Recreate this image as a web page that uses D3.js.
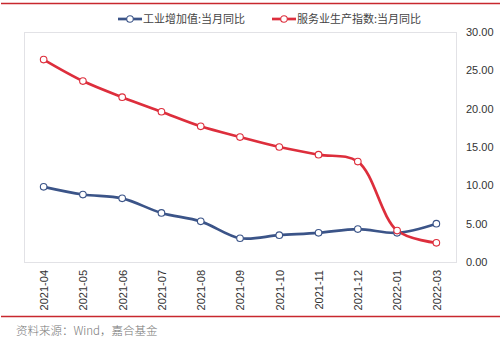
<!DOCTYPE html>
<html><head><meta charset="utf-8">
<script src="https://cdn.jsdelivr.net/npm/d3@7"></script>
<style>body{margin:0;background:#fff}svg{display:block}</style>
</head><body>
<svg id="c" width="500" height="340"></svg>
<script>
const categories = ["2021-04","2021-05","2021-06","2021-07","2021-08","2021-09","2021-10","2021-11","2021-12","2022-01","2022-03"];
const industrial = [9.8, 8.8, 8.3, 6.4, 5.3, 3.1, 3.5, 3.8, 4.3, 3.8, 5.0];
const services = [26.4, 23.6, 21.5, 19.6, 17.7, 16.3, 15.0, 14.0, 13.1, 4.1, 2.5];
const yTicks = [0, 5, 10, 15, 20, 25, 30];
const seriesNames = ["工业增加值:当月同比", "服务业生产指数:当月同比"];
const seriesColors = ["#3b5488", "#dd2e3c"];

const svg = d3.select("#c");
const L = 24, R = 456, T = 32, B = 262;
const x = d3.scalePoint().domain(categories).range([L, R]).padding(0.5);
const y = d3.scaleLinear().domain([0, 30]).range([B, T]);

// red rules
svg.append("line").attr("x1",1).attr("x2",500).attr("y1",3.5).attr("y2",3.5).attr("stroke","#c8282e").attr("stroke-width",1.5);
svg.append("line").attr("x1",1).attr("x2",500).attr("y1",316.5).attr("y2",316.5).attr("stroke","#c8282e").attr("stroke-width",1.5);

// plot frame
svg.append("rect").attr("x",L+0.5).attr("y",T+0.5).attr("width",R-L).attr("height",B-T)
  .attr("fill","#fff").attr("stroke","#e2e2e6").attr("stroke-width",1);

const font = "'Liberation Sans', Arial, sans-serif";

// y axis on right
const yAxis = d3.axisRight(y).tickValues(yTicks).tickFormat(d3.format(".2f")).tickSize(0).tickPadding(0);
const gy = svg.append("g").attr("transform", `translate(466,0)`).call(yAxis);
gy.select(".domain").remove();
gy.selectAll("text").attr("font-family", font).attr("font-size", 11).attr("fill", "#333");

// x axis
const xAxis = d3.axisBottom(x).tickSize(0).tickPadding(0);
const gx = svg.append("g").attr("transform", `translate(0,${B})`).call(xAxis);
gx.select(".domain").remove();
gx.selectAll("text").attr("font-family", font).attr("font-size", 11).attr("fill", "#333")
  .attr("transform", "rotate(-90)").attr("text-anchor", "end")
  .attr("x", -8).attr("y", 0).attr("dy", "0.35em");

// lines
const series = [industrial, services];
const line = d3.line().x((d,i)=>x(categories[i])).y(d=>y(d)).curve(d3.curveCatmullRom.alpha(0.5));
series.forEach((s, k) => {
  svg.append("path").datum(s).attr("d", line).attr("fill","none")
    .attr("stroke", seriesColors[k]).attr("stroke-width", 2.7).attr("stroke-linejoin","round");
});
series.forEach((s, k) => {
  svg.append("g").selectAll("circle").data(s).join("circle")
    .attr("cx",(d,i)=>x(categories[i])).attr("cy",d=>y(d)).attr("r",3.3)
    .attr("fill","#fff").attr("stroke", seriesColors[k]).attr("stroke-width",1.1);
});

// legend
const legendX = [118, 272];
seriesNames.forEach((n, k) => {
  const g = svg.append("g").attr("transform", `translate(${legendX[k]},19)`);
  g.append("line").attr("x1",0).attr("x2",24).attr("stroke",seriesColors[k]).attr("stroke-width",2.7);
  g.append("circle").attr("cx",12).attr("r",3.3).attr("fill","#fff").attr("stroke",seriesColors[k]).attr("stroke-width",1.1);
  g.append("text").attr("x",25).attr("dy","0.35em").attr("font-family","'Noto Sans CJK SC', sans-serif")
    .attr("font-size",11).attr("fill","#444").text(n);
});

// source
svg.append("text").attr("x",16).attr("y",331).attr("dy","0.35em")
  .attr("font-family","'Noto Sans CJK SC', sans-serif").attr("font-size",11.5).attr("font-weight",300).attr("fill","#777")
  .text("资料来源：Wind，嘉合基金");
</script>
</body></html>
